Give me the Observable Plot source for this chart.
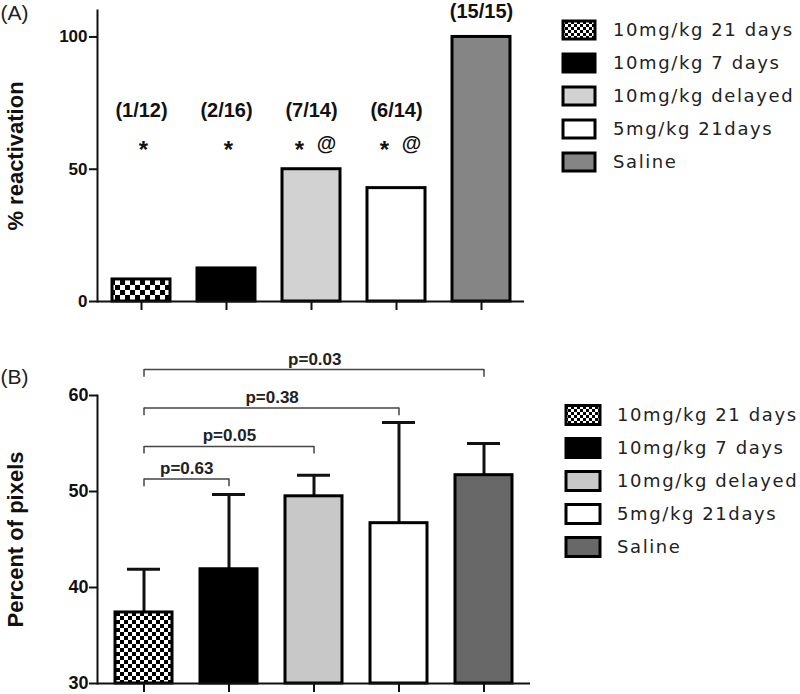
<!DOCTYPE html>
<html><head><meta charset="utf-8">
<script src="https://cdn.jsdelivr.net/npm/d3@7"></script>
<script src="https://cdn.jsdelivr.net/npm/@observablehq/plot@0.6"></script>
<style>
body{margin:0;background:#fff;}
#wrap{position:relative;width:800px;height:694px;overflow:hidden;}
#wrap > svg{position:absolute;left:0;overflow:visible;}
</style></head>
<body>
<svg width="0" height="0" style="position:absolute"><defs>
<pattern id="checkA" width="10" height="10" patternUnits="userSpaceOnUse"><rect width="10" height="10" fill="#fff"/><rect width="5" height="5" fill="#000"/><rect x="5" y="5" width="5" height="5" fill="#000"/></pattern>
<pattern id="checkB" width="8" height="8" patternUnits="userSpaceOnUse"><rect width="8" height="8" fill="#fff"/><rect width="4" height="4" fill="#000"/><rect x="4" y="4" width="4" height="4" fill="#000"/></pattern>
<pattern id="checkL" width="6" height="6" patternUnits="userSpaceOnUse"><rect width="6" height="6" fill="#fff"/><rect width="3" height="3" fill="#000"/><rect x="3" y="3" width="3" height="3" fill="#000"/></pattern>
</defs></svg>
<div id="wrap"></div>
<script>
// ---------- data ----------
const groups = ["10mg/kg 21 days", "10mg/kg 7 days", "10mg/kg delayed", "5mg/kg 21days", "Saline"];
// panel A: reactivated / total animals
const reactivated = [1, 2, 7, 6, 15];
const totals = [12, 16, 14, 14, 15];
const hasStar = [true, true, true, true, false];
const hasAt = [false, false, true, true, false];
const yTicksA = [0, 50, 100];
// panel B: percent of pixels (mean and SD)
const pixelMean = [37.4, 41.9, 49.5, 46.7, 51.7];
const pixelSD = [4.5, 7.8, 2.2, 10.5, 3.3];
const yTicksB = [30, 40, 50, 60];
// comparisons vs first group
const compareTo = [1, 2, 3, 4];
const pLabels = ["p=0.63", "p=0.05", "p=0.38", "p=0.03"];
const bracketLevel = [51.3, 54.7, 58.7, 62.7];

// ---------- styles ----------
const fillsA = ["url(#checkA)", "#000000", "#d2d2d2", "#ffffff", "#858585"];
const fillsB = ["url(#checkB)", "#000000", "#c8c8c8", "#ffffff", "#686868"];
const fillsLegA = ["url(#checkL)", "#000000", "#d2d2d2", "#ffffff", "#858585"];
const fillsLegB = ["url(#checkL)", "#000000", "#c8c8c8", "#ffffff", "#686868"];
const FONT = "Liberation Sans, Arial, sans-serif";

const wrap = document.getElementById("wrap");

// ---------- panel A ----------
const dataA = groups.map((g, i) => ({
  group: g, pct: reactivated[i] / totals[i] * 100,
  frac: `(${reactivated[i]}/${totals[i]})`, star: hasStar[i], at: hasAt[i]
}));
const maxPct = d3.max(dataA, d => d.pct);
const fracLevel = 72.2, sigLevel = 59;

const plotA = Plot.plot({
  width: 540, height: 320,
  marginLeft: 97, marginRight: 16, marginTop: 10, marginBottom: 19,
  style: {fontFamily: FONT, background: "transparent", overflow: "visible", color: "#111"},
  x: {domain: groups, paddingInner: 0.32, paddingOuter: 0.15},
  y: {domain: [0, 110]},
  color: {domain: groups, range: fillsA},
  marks: [
    Plot.barY(dataA, {x: "group", y: "pct", fill: "group", stroke: "#000", strokeWidth: 3}),
    Plot.ruleY([0], {strokeWidth: 2}),
    Plot.frame({anchor: "left", strokeWidth: 2}),
    Plot.axisY({ticks: yTicksA, tickSize: 8, tickPadding: 2, fontSize: 17, fontWeight: "bold", strokeWidth: 2, label: null}),
    Plot.axisX({tickSize: 9, tickFormat: () => "", strokeWidth: 2, label: null}),
    Plot.text(dataA.filter(d => d.pct < maxPct), {x: "group", y: fracLevel, text: "frac", fontSize: 20, fontWeight: "bold", letterSpacing: 1.5, lineAnchor: "middle", fill: "#111"}),
    Plot.text(dataA.filter(d => d.pct >= maxPct), {x: "group", y: "pct", text: "frac", fontSize: 20, fontWeight: "bold", letterSpacing: 1.5, lineAnchor: "middle", dy: -25, fill: "#111"}),
    Plot.text(dataA.filter(d => d.star && !d.at), {x: "group", y: sigLevel, text: () => "*", fontSize: 24, fontWeight: "bold", lineAnchor: "bottom", dy: 13, dx: 2, fill: "#111"}),
    Plot.text(dataA.filter(d => d.star && d.at), {x: "group", y: sigLevel, text: () => "*", fontSize: 24, fontWeight: "bold", lineAnchor: "bottom", dy: 13, dx: -12, fill: "#111"}),
    Plot.text(dataA.filter(d => d.at), {x: "group", y: sigLevel, text: () => "@", fontSize: 20, fontWeight: "bold", lineAnchor: "bottom", dy: 5, dx: 15, fill: "#111"}),
    Plot.text([0], {frameAnchor: "left", textAnchor: "middle", text: () => "% reactivation", rotate: -90, dx: -82, fontSize: 22, fontWeight: "bold", fill: "#111"}),
    Plot.text([0], {frameAnchor: "top-left", text: () => "(A)", textAnchor: "start", lineAnchor: "middle", dx: -97, dy: 3, fontSize: 21, fill: "#222"})
  ]
});
plotA.style.top = "0px";
wrap.appendChild(plotA);

// ---------- panel B ----------
const dataB = groups.map((g, i) => ({group: g, mean: pixelMean[i], upper: pixelMean[i] + pixelSD[i]}));
const brackets = compareTo.map((j, k) => ({from: groups[0], to: groups[j], span: j, p: pLabels[k], level: bracketLevel[k]}));
const yDomainB = [30, 60];
const B = {width: 540, height: 374, mL: 97, mR: 10, pi: 0.33, po: 0.2};
const stepB = (B.width - B.mL - B.mR) / (groups.length - B.pi + 2 * B.po);
const drop = 0.8;

const plotB = Plot.plot({
  width: B.width, height: B.height,
  marginLeft: B.mL, marginRight: B.mR, marginTop: 75, marginBottom: 11,
  style: {fontFamily: FONT, background: "transparent", overflow: "visible", color: "#111"},
  x: {domain: groups, paddingInner: B.pi, paddingOuter: B.po},
  y: {domain: yDomainB},
  color: {domain: groups, range: fillsB},
  marks: [
    Plot.ruleX(dataB, {x: "group", y1: "mean", y2: "upper", strokeWidth: 3}),
    Plot.tickY(dataB, {x: "group", y: "upper", strokeWidth: 3, insetLeft: 12, insetRight: 12}),
    Plot.barY(dataB, {x: "group", y1: yDomainB[0], y2: "mean", fill: "group", stroke: "#000", strokeWidth: 3}),
    Plot.ruleY([yDomainB[0]], {strokeWidth: 2}),
    Plot.frame({anchor: "left", strokeWidth: 2}),
    Plot.axisY({ticks: yTicksB, tickSize: 8, tickPadding: 1, fontSize: 18, fontWeight: "bold", strokeWidth: 2, label: null}),
    Plot.axisX({tickSize: 9, tickFormat: () => "", strokeWidth: 2, label: null}),
    Plot.link(brackets, {x1: "from", x2: "to", y1: "level", y2: "level", stroke: "#444", strokeWidth: 1.5}),
    Plot.ruleX(brackets, {x: "from", y1: d => d.level - drop, y2: "level", stroke: "#444", strokeWidth: 1.5}),
    Plot.ruleX(brackets, {x: "to", y1: d => d.level - drop, y2: "level", stroke: "#444", strokeWidth: 1.5}),
    ...brackets.map(b => Plot.text([b], {x: "from", y: "level", text: "p", dx: stepB * b.span / 2, dy: -5, lineAnchor: "bottom", fontSize: 17, fontWeight: "bold", letterSpacing: 1.3, fill: "#222"})),
    Plot.text([0], {frameAnchor: "left", textAnchor: "middle", text: () => "Percent of pixels", rotate: -90, dx: -82, fontSize: 22, fontWeight: "bold", fill: "#111"}),
    Plot.text([0], {frameAnchor: "top-left", text: () => "(B)", textAnchor: "start", lineAnchor: "middle", dx: -97, dy: -18, fontSize: 21, fill: "#222"})
  ]
});
plotB.style.top = "320px";
wrap.appendChild(plotB);

// ---------- legends ----------
function legend(top, fills, swX, swW, swH, textX, y0) {
  const svg = d3.create("svg").attr("width", 250).attr("height", 200)
    .style("position", "absolute").style("left", "550px").style("top", top + "px");
  const rows = svg.selectAll("g").data(groups).join("g")
    .attr("transform", (d, i) => `translate(0,${y0 + i * 33})`);
  rows.append("rect").attr("x", swX).attr("y", -swH / 2).attr("width", swW).attr("height", swH)
    .attr("fill", (d, i) => fills[i]).attr("stroke", "#000").attr("stroke-width", 3);
  rows.append("text").attr("x", textX).attr("dy", "0.36em").text(d => d)
    .attr("font-family", "DejaVu Sans, sans-serif").attr("font-size", 18)
    .attr("letter-spacing", 1.6).attr("fill", "#222");
  wrap.appendChild(svg.node());
}
legend(0, fillsLegA, 13, 32, 18, 63, 30);
legend(320, fillsLegB, 16, 34, 19, 67, 95);
</script>
</body></html>
